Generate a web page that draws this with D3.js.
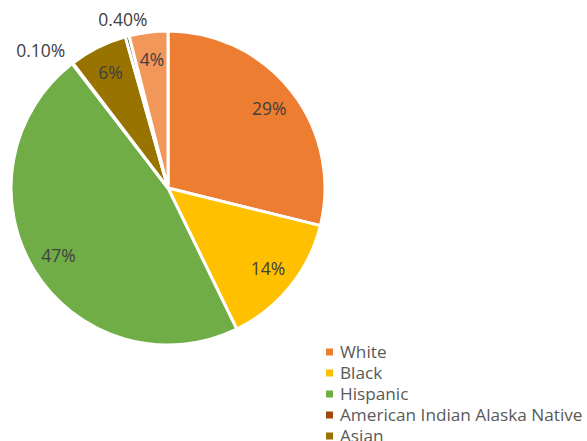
<!DOCTYPE html>
<html><head><meta charset="utf-8">
<script src="https://cdn.jsdelivr.net/npm/d3@7"></script>
<style>body{margin:0;background:#fff}svg{display:block}</style>
</head><body>
<svg id="c" width="587" height="441"></svg>
<script>
const categories = ["White","Black","Hispanic","American Indian Alaska Native","Asian","Pacific Islander","Two or More Races"];
const values = [29, 14, 47, 0.1, 6, 0.4, 4];
const labels = ["29%","14%","47%","0.10%","6%","0.40%","4%"];
const colors = ["#ED7D31","#FFC000","#70AD47","#9E480E","#997300","#43682B","#F1975A"];

const svg = d3.select("#c");
const cx = 168, cy = 188, r = 157;
const g = svg.append("g").attr("transform",`translate(${cx},${cy})`);
const pie = d3.pie().sort(null).value(d=>d)(values);
const arc = d3.arc().innerRadius(0).outerRadius(r);
g.selectAll("path").data(pie).join("path")
  .attr("d",arc).attr("fill",(d,i)=>colors[i])
  .attr("stroke","#fff").attr("stroke-width",3).attr("stroke-linejoin","miter");

const inner = d3.arc().innerRadius(r*0.82).outerRadius(r*0.82);
const outerOff = [0,0,0,{rad:r+12,anchor:"end",dy:-3},0,{rad:r+17,anchor:"middle",dy:0},0];
g.selectAll("text.lab").data(pie).join("text").attr("class","lab")
  .each(function(d,i){
    const o = outerOff[i];
    let p, anchor="middle", dy=0;
    if(o){ p = d3.arc().innerRadius(o.rad).outerRadius(o.rad).centroid(d); anchor=o.anchor; dy=o.dy; }
    else p = inner.centroid(d);
    d3.select(this).attr("x",p[0]).attr("y",p[1]+dy).attr("text-anchor",anchor)
      .attr("fill", "#404040");
  })
  .attr("dy","0.35em").attr("font-family","Open Sans, sans-serif").attr("font-size",17.5)
  .text((d,i)=>labels[i]);

const leg = svg.append("g").attr("transform","translate(326,352)");
const items = leg.selectAll("g").data(categories).join("g")
  .attr("transform",(d,i)=>`translate(0,${i*21})`);
items.append("rect").attr("x",0).attr("y",-3.5).attr("width",7).attr("height",7)
  .attr("fill",(d,i)=>colors[i]);
items.append("text").attr("x",14).attr("y",0).attr("dy","0.35em")
  .attr("font-family","Open Sans, sans-serif").attr("font-size",17.2).attr("fill","#595959")
  .text(d=>d);
</script>
</body></html>
